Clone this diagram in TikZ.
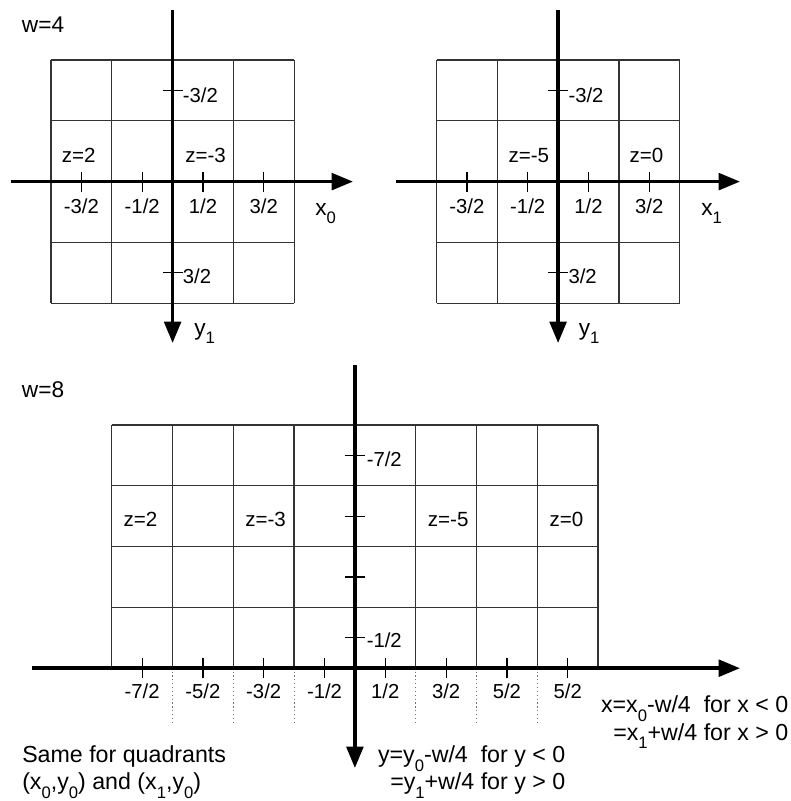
\documentclass[tikz,border=0pt]{standalone}
\usepackage{fontspec}
\setmainfont{Liberation Sans}
\usetikzlibrary{arrows.meta}
\newcommand\mysb[2]{\raisebox{-#1}{\fontsize{12.5}{14}\selectfont #2}}
\begin{document}
\begin{tikzpicture}[x=0.75pt,y=-0.75pt,
  gridln/.style={draw=black!80, line width=1pt},
  axisln/.style={draw=black, line width=2.6pt, -{Triangle[length=16pt,width=12.5pt]}},
  tickln/.style={draw=black, line width=0.9pt},
  lbl/.style={inner sep=0pt, font=\fontsize{15.2}{18}\selectfont},
  zlbl/.style={inner sep=0pt, font=\fontsize{15.4}{18}\selectfont},
  big/.style={inner sep=0pt, font=\fontsize{17}{20}\selectfont},
  note/.style={inner sep=0pt, font=\fontsize{17.4}{21}\selectfont},
  dotln/.style={draw=black!55, line width=0.9pt, dotted}]
\useasboundingbox (0,0) rectangle (791,801);

% ---------- top-left grid (w=4) ----------
\foreach \i in {0,...,4} {
  \draw[gridln] ({51+60.8*\i},60) -- ({51+60.8*\i},303.2);
  \draw[gridln] (51,{60+60.8*\i}) -- (294.2,{60+60.8*\i});
}
\coordinate (tlxs) at (11,181.6);
\coordinate (tlxe) at (353,181.6);
\coordinate (tlys) at (172.6,10);
\coordinate (tlye) at (172.6,343);
\draw[axisln] (tlxs) -- (tlxe);
\draw[axisln] (tlys) -- (tlye);
\foreach \x/\t [count=\k] in {81.4/-3\slash 2,142.2/-1\slash 2,203/1\slash 2,263.8/3\slash 2} {
  \coordinate (tlta\k) at (\x,171.6);
  \coordinate (tltb\k) at (\x,191.6);
  \draw[tickln] (tlta\k) -- (tltb\k);
  \node[lbl, anchor=base] (tlxl\k) at (\x,213) {\t};
}
\coordinate (tlva1) at (162.6,90.4);  \coordinate (tlvb1) at (182.6,90.4);
\coordinate (tlva2) at (162.6,272.8); \coordinate (tlvb2) at (182.6,272.8);
\draw[tickln] (tlva1) -- (tlvb1);
\draw[tickln] (tlva2) -- (tlvb2);
\node[lbl, anchor=base west] (tlyl1) at (182.6,102) {-3/2};
\node[lbl, anchor=base west] (tlyl2) at (182.6,283) {3/2};
\node[big, anchor=base west] (w4) at (21.7,32) {w=4};
\node[zlbl, anchor=base west] (tlz1) at (61.7,162) {z=2};
\node[zlbl, anchor=base west] (tlz2) at (185,162) {z=-3};
\node[big, anchor=base west] (tlx0) at (315,215) {x\mysb{6.5pt}{0}};
\node[big, anchor=base west] (tly1) at (194,335) {y\mysb{6.5pt}{1}};

% ---------- top-right grid ----------
\foreach \i in {0,...,4} {
  \draw[gridln] ({436.5+60.8*\i},60) -- ({436.5+60.8*\i},303.2);
  \draw[gridln] (436.5,{60+60.8*\i}) -- (679.7,{60+60.8*\i});
}
\coordinate (trxs) at (396,181.6);
\coordinate (trxe) at (740,181.6);
\coordinate (trys) at (558.1,10);
\coordinate (trye) at (558.1,343);
\draw[axisln] (trxs) -- (trxe);
\draw[axisln] (trys) -- (trye);
\foreach \x/\t [count=\k] in {466.9/-3\slash 2,527.7/-1\slash 2,588.5/1\slash 2,649.3/3\slash 2} {
  \coordinate (trta\k) at (\x,171.6);
  \coordinate (trtb\k) at (\x,191.6);
  \draw[tickln] (trta\k) -- (trtb\k);
  \node[lbl, anchor=base] (trxl\k) at (\x,213) {\t};
}
\coordinate (trva1) at (548.1,90.4);  \coordinate (trvb1) at (568.1,90.4);
\coordinate (trva2) at (548.1,272.8); \coordinate (trvb2) at (568.1,272.8);
\draw[tickln] (trva1) -- (trvb1);
\draw[tickln] (trva2) -- (trvb2);
\node[lbl, anchor=base west] (tryl1) at (568.3,102) {-3/2};
\node[lbl, anchor=base west] (tryl2) at (568.3,283) {3/2};
\node[zlbl, anchor=base west] (trz1) at (508.3,162) {z=-5};
\node[zlbl, anchor=base west] (trz2) at (629.3,162) {z=0};
\node[big, anchor=base west] (trx1) at (701,215) {x\mysb{6.5pt}{1}};
\node[big, anchor=base west] (try1) at (578.5,335) {y\mysb{6.5pt}{1}};

% ---------- bottom grid (w=8) ----------
\foreach \i in {0,...,8} {
  \draw[gridln] ({111.7+60.8*\i},425) -- ({111.7+60.8*\i},668.2);
}
\foreach \j in {0,...,3} {
  \draw[gridln] (111.7,{425+60.8*\j}) -- (598.1,{425+60.8*\j});
}
\foreach \i in {1,2,3,5,6,7} {
  \draw[dotln] ({111.7+60.8*\i},671.5) -- ({111.7+60.8*\i},725);
}
\coordinate (bxs) at (31.7,668.2);
\coordinate (bxe) at (740,668.2);
\coordinate (bys) at (354.9,365);
\coordinate (bye) at (354.9,768);
\draw[axisln] (bxs) -- (bxe);
\draw[axisln] (bys) -- (bye);
\foreach \x/\t [count=\k] in {142.1/-7\slash 2,202.9/-5\slash 2,263.7/-3\slash 2,324.5/-1\slash 2,385.3/1\slash 2,446.1/3\slash 2,506.9/5\slash 2,567.7/5\slash 2} {
  \coordinate (bta\k) at (\x,658.2);
  \coordinate (btb\k) at (\x,678.2);
  \draw[tickln] (bta\k) -- (btb\k);
  \node[lbl, anchor=base] (bxl\k) at (\x,698.3) {\t};
}
\foreach \y [count=\k] in {455.4,516.2,577,637.8} {
  \coordinate (bva\k) at (344.9,\y);
  \coordinate (bvb\k) at (364.9,\y);
  \draw[tickln] (bva\k) -- (bvb\k);
}
\node[lbl, anchor=base west] (byl1) at (366.5,466) {-7/2};
\node[lbl, anchor=base west] (byl2) at (366.5,647.3) {-1/2};
\node[big, anchor=base west] (w8) at (21.7,397.7) {w=8};
\node[zlbl, anchor=base west] (bz1) at (123.3,526.7) {z=2};
\node[zlbl, anchor=base west] (bz2) at (245,526.7) {z=-3};
\node[zlbl, anchor=base west] (bz3) at (427.7,526.7) {z=-5};
\node[zlbl, anchor=base west] (bz4) at (549.3,526.7) {z=0};

% ---------- notes ----------
\node[note, anchor=base west] (same1) at (22,762.5) {Same for quadrants};
\node[note, anchor=base west] (same2) at (22,789.5) {(x\mysb{6.5pt}{0},y\mysb{6.5pt}{0}) and (x\mysb{6.5pt}{1},y\mysb{6.5pt}{0})};
\node[note, anchor=base east] (xeq1) at (788.5,712.7) {x=x\mysb{6.5pt}{0}-w/4\ \ for x < 0};
\node[note, anchor=base east] (xeq2) at (788.5,740) {=x\mysb{6.5pt}{1}+w/4 for x > 0};
\node[note, anchor=base east] (yeq1) at (565.5,762.5) {y=y\mysb{6.5pt}{0}-w/4\ \ for y < 0};
\node[note, anchor=base east] (yeq2) at (565.5,789.5) {=y\mysb{6.5pt}{1}+w/4 for y > 0};
\end{tikzpicture}
\end{document}
